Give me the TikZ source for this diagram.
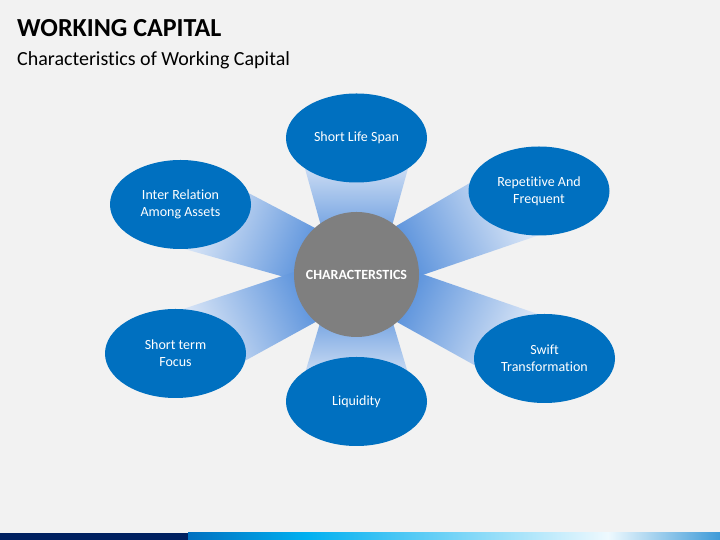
\documentclass[tikz,border=0pt]{standalone}
\usepackage{fontspec}
\setmainfont{Carlito}[Ligatures=NoCommon]
\usetikzlibrary{shapes.geometric,calc,backgrounds}
\definecolor{slidebg}{HTML}{F2F2F2}
\definecolor{itemblue}{HTML}{0070C0}
\definecolor{hubgray}{HTML}{7F7F7F}
\definecolor{beamblue}{HTML}{3479D4}
\definecolor{beamfade}{HTML}{F4F7FC}
\definecolor{barnavy}{HTML}{002060}
\definecolor{barcyan}{HTML}{00B0F0}
\definecolor{barlight}{HTML}{EEF9FE}
\definecolor{barend}{HTML}{3D9AD8}
\begin{document}
\begin{tikzpicture}[
    x=1pt, y=1pt,
    hub/.style={circle, fill=hubgray, minimum size=125pt, inner sep=0pt, text=white, font=\fontsize{14}{17}\selectfont\bfseries},
    item/.style={ellipse, fill=itemblue, minimum width=141pt, minimum height=89pt, inner sep=0pt, align=center, text=white, font=\fontsize{14}{17}\selectfont},
    heading/.style={anchor=base west, inner sep=0pt, text=black},
    beam/.style={top color=beamblue, bottom color=beamfade,
        to path={($(\tikztostart)!22pt!90:(\tikztotarget)$) -- ($(\tikztotarget)!#1!-90:(\tikztostart)$) -- ($(\tikztotarget)!#1!90:(\tikztostart)$) -- ($(\tikztostart)!22pt!-90:(\tikztotarget)$) -- cycle}}
]
\useasboundingbox (0,0) rectangle (720,540);

\node[heading, font=\fontsize{26}{30}\selectfont\bfseries] (title) at (17,503) {WORKING CAPITAL};
\node[heading, font=\fontsize{20}{24}\selectfont] (subtitle) at (17,474) {Characteristics of Working Capital};

\node[hub] (main) at (356.5,265.5) {CHARACTERSTICS};
\node[item] (lifespan) at (356.5,402) {Short Life Span};
\node[item] (relation) at (180.5,335.5) {Inter Relation\\Among Assets};
\node[item] (repetitive) at (539,349) {Repetitive And\\Frequent};
\node[item] (focus) at (175.5,186.5) {Short term\\Focus};
\node[item] (liquidity) at (356.5,138.5) {Liquidity};
\node[item] (swift) at (544.5,181.5) {Swift\\Transformation};

\fill[barnavy] (0,0) rectangle (188,7);
\shade[left color=itemblue, right color=barcyan] (188,0) rectangle (306,7);
\shade[left color=barcyan, right color=barlight] (306,0) rectangle (608,7);
\shade[left color=barlight, right color=barend] (608,0) rectangle (720,7);

\begin{scope}[on background layer]
\fill[slidebg] (0,0) rectangle (720,540);
\shade[beam=60pt, shading angle=180] (main.center) to (lifespan.center);
\shade[beam=42pt, shading angle=248] (main.center) to (relation.center);
\shade[beam=42pt, shading angle=115] (main.center) to (repetitive.center);
\shade[beam=40pt, shading angle=294] (main.center) to (focus.center);
\shade[beam=60pt, shading angle=0] (main.center) to (liquidity.center);
\shade[beam=40pt, shading angle=66] (main.center) to (swift.center);
\end{scope}
\end{tikzpicture}
\end{document}
